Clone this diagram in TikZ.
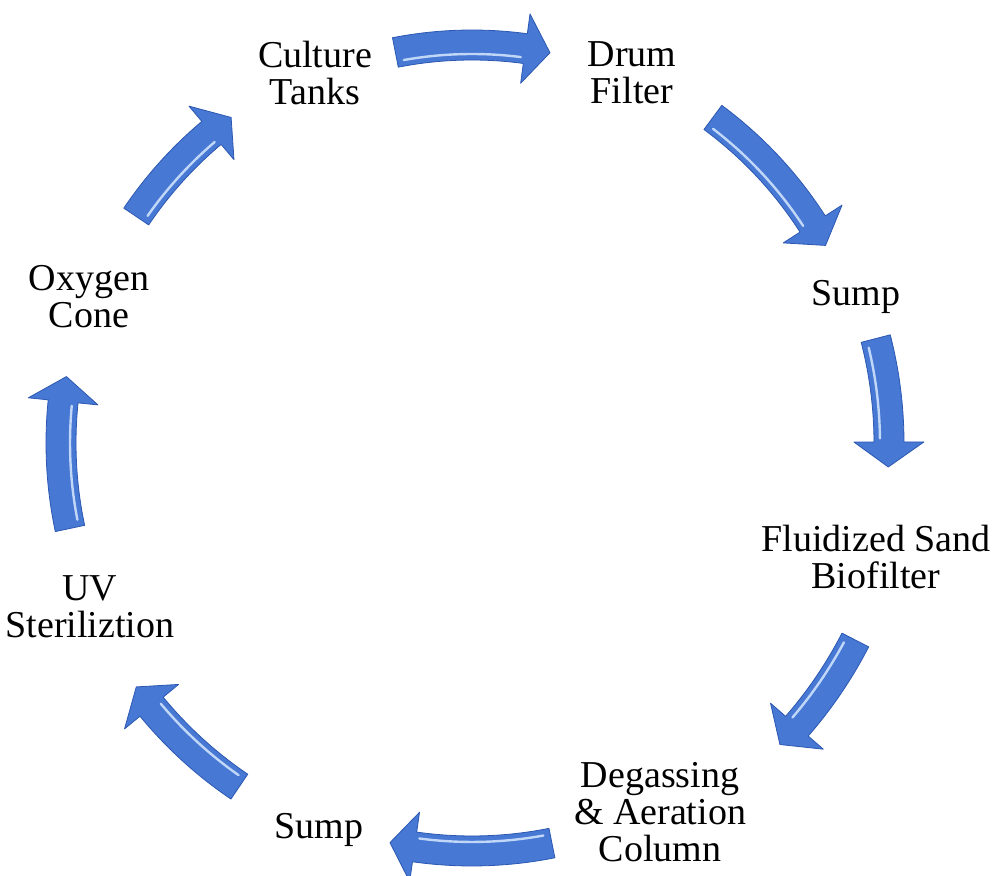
\documentclass[tikz,border=0pt]{standalone}
\usepackage{fontspec}
\setmainfont{Liberation Serif}
\usetikzlibrary{calc}
\definecolor{arrowblue}{RGB}{70,120,212}
\definecolor{arrowedge}{RGB}{44,88,178}
\definecolor{arrowlight}{RGB}{214,232,255}
\tikzset{lbl/.style={align=center, inner sep=0pt, font=\fontsize{19}{18.5}\selectfont}}
\newcommand{\cnode}[3]{\node [lbl] (#1) at (#2) {#3}}
% curved block arrow round (C): radius, from angle, to angle (clockwise)
\newcommand{\cyclearrow}[3]{%
  \pgfmathsetmacro{\hb}{#3+25/#1*180/pi}
  \filldraw[fill=arrowblue, draw=arrowedge, line width=0.4pt, line join=round]
    ($(C)+(#2:#1+15)$) arc[start angle=#2, end angle=\hb, radius=#1+15]
    -- ($(C)+(\hb:#1+35)$) -- ($(C)+(#3:#1)$) -- ($(C)+(\hb:#1-35)$)
    -- ($(C)+(\hb:#1-15)$) arc[start angle=\hb, end angle=#2, radius=#1-15] -- cycle;
  \draw[arrowlight, line width=1.2pt, line cap=round, opacity=0.85]
    ($(C)+(#2-1:#1-9)$) arc[start angle=#2-1, end angle=\hb+0.5, radius=#1-9];
}

\begin{document}
\begin{tikzpicture}[x=0.5pt, y=0.5pt]
\useasboundingbox (0,-876) rectangle (993,0);
\coordinate (C) at (472,-443);

\cnode{CT}{315,-73}{Culture\\Tanks};
\cnode{DF}{632,-73}{Drum\\Filter};
\cnode{SR}{856,-297}{Sump};
\cnode{FSB}{876,-557}{Fluidized Sand\\Biofilter};
\cnode{DAC}{660,-812}{Degassing\\\& Aeration\\Column};
\cnode{SB}{319,-830}{Sump};
\cnode{UV}{90,-607}{UV\\Steriliztion};
\cnode{OC}{89,-297}{Oxygen\\Cone};

\cyclearrow{398}{101.1}{78.7}
\cyclearrow{405}{53.5}{29.2}
\cyclearrow{417}{14.5}{-3.3}
\cyclearrow{431}{-27.2}{-44.4}
\cyclearrow{408}{-78.7}{-101.6}
\cyclearrow{415}{-124.1}{-144}
\cyclearrow{411}{-168}{-189.3}
\cyclearrow{405}{146}{126.5}

\end{tikzpicture}
\end{document}
